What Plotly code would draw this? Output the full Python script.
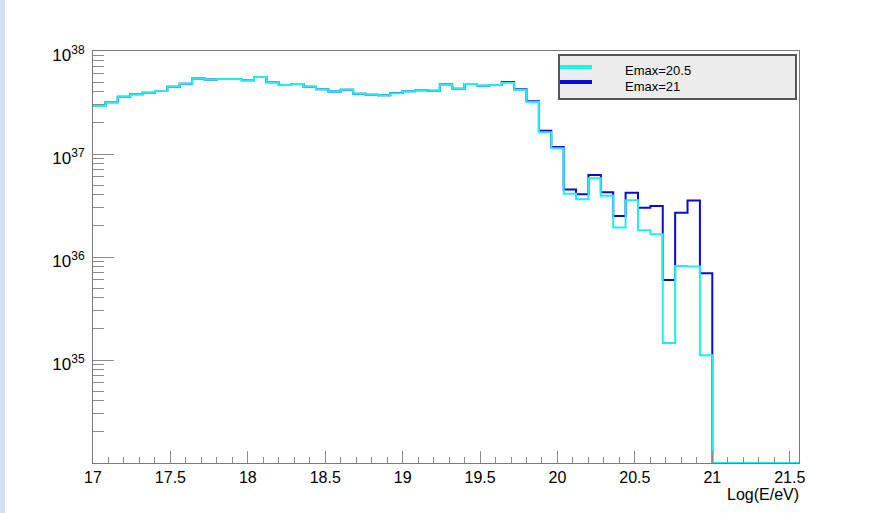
import numpy as np
import plotly.graph_objects as go

# Histogram binning in log10(E/eV): 57 bins of width 0.08 from 17.00 to 21.56
BIN_LO = 17.0
BIN_WIDTH = 0.08
N_BINS = 57

# Bin contents for the two cut-off energies
emax_20p5 = [
    2.93e37, 3.18e37, 3.60e37, 3.80e37, 3.94e37, 4.10e37, 4.50e37, 4.80e37,
    5.40e37, 5.30e37, 5.35e37, 5.35e37, 5.20e37, 5.60e37, 4.97e37, 4.68e37,
    4.79e37, 4.50e37, 4.25e37, 4.05e37, 4.20e37, 3.85e37, 3.77e37, 3.72e37,
    3.88e37, 4.07e37, 4.15e37, 4.12e37, 4.68e37, 4.31e37, 4.78e37, 4.60e37,
    4.68e37, 4.92e37, 4.20e37, 3.20e37, 1.63e37, 1.14e37, 4.11e36, 3.64e36,
    5.80e36, 3.93e36, 1.93e36, 3.56e36, 1.82e36, 1.66e36, 1.46e35, 8.20e35,
    8.10e35, 1.11e35, 0, 0, 0, 0, 0, 0, 0,
]
emax_21 = [
    2.93e37, 3.18e37, 3.60e37, 3.80e37, 3.94e37, 4.10e37, 4.50e37, 4.80e37,
    5.40e37, 5.30e37, 5.35e37, 5.35e37, 5.20e37, 5.60e37, 4.97e37, 4.68e37,
    4.79e37, 4.50e37, 4.25e37, 4.05e37, 4.20e37, 3.85e37, 3.77e37, 3.72e37,
    3.92e37, 4.07e37, 4.15e37, 4.12e37, 4.72e37, 4.31e37, 4.78e37, 4.60e37,
    4.68e37, 4.99e37, 4.26e37, 3.26e37, 1.68e37, 1.17e37, 4.52e36, 4.07e36,
    6.27e36, 4.25e36, 2.50e36, 4.20e36, 3.00e36, 3.12e36, 5.97e35, 2.69e36,
    3.54e36, 6.97e35, 0, 0, 0, 0, 0, 0, 0,
]
series_labels = ["Emax=20.5", "Emax=21"]

x_tick_vals = [17, 17.5, 18, 18.5, 19, 19.5, 20, 20.5, 21, 21.5]
x_tick_text = ["17", "17.5", "18", "18.5", "19", "19.5", "20", "20.5", "21", "21.5"]
y_tick_vals = [1e35, 1e36, 1e37, 1e38]
y_tick_exp = ["35", "36", "37", "38"]
x_title = "Log(E/eV)"

# Page and frame geometry (pixels)
W, H = 881, 513
ML, MR, MT, MB = 93, 82, 51, 50
PW, PH = W - ML - MR, H - MT - MB
Y_LOG_RANGE = [34, 38]

CYAN = "#1cf0f0"
BLUE = "#0a0ad6"
AXIS = "#7a7a7a"
TICK = "#8c8c8c"
FONT = "Liberation Sans, Arial, Helvetica, sans-serif"


def px_x(px):
    return (px - ML) / PW


def px_y(py):
    return (H - MB - py) / PH


edges = BIN_LO + BIN_WIDTH * np.arange(N_BINS + 1)
floor_val = 10 ** Y_LOG_RANGE[0]


def step_xy(values):
    """Histogram outline; empty bins sit on the bottom of the frame."""
    v = np.asarray(values, dtype=float)
    v = np.where(v > 0, v, floor_val)
    return edges, np.append(v, v[-1])


fig = go.Figure()
for vals, color, name in [(emax_21, BLUE, series_labels[1]),
                          (emax_20p5, CYAN, series_labels[0])]:
    x, y = step_xy(vals)
    fig.add_trace(go.Scatter(
        x=x, y=y, mode="lines", name=name,
        line=dict(color=color, width=2, shape="hv"),
        hoverinfo="skip", showlegend=False,
    ))

# Minor ticks for each decade on the log axis
y_minor = [k * 10.0 ** e for e in range(Y_LOG_RANGE[0], Y_LOG_RANGE[1]) for k in range(2, 10)]
y_tick_text = ["10<sup><span style='font-size:12px'>%s</span></sup>" % e for e in y_tick_exp]

fig.update_layout(
    width=W, height=H,
    margin=dict(l=ML, r=MR, t=MT, b=MB, pad=0),
    paper_bgcolor="white", plot_bgcolor="white",
    font=dict(family=FONT, color="black", size=15),
    showlegend=False,
    xaxis=dict(
        range=[BIN_LO, BIN_LO + BIN_WIDTH * N_BINS],
        tickmode="array", tickvals=x_tick_vals, ticktext=x_tick_text,
        ticks="inside", ticklen=12, tickwidth=1, tickcolor=TICK,
        minor=dict(dtick=0.1, tick0=17, ticks="inside", ticklen=6, tickcolor=TICK, tickwidth=1),
        showline=True, linecolor=AXIS, linewidth=1, mirror=True,
        showgrid=False, zeroline=False,
        tickfont=dict(size=16, family=FONT, color="black"),
    ),
    yaxis=dict(
        type="log", range=Y_LOG_RANGE,
        tickmode="array", tickvals=y_tick_vals, ticktext=y_tick_text,
        ticks="inside", ticklen=21, tickwidth=1, tickcolor=TICK,
        minor=dict(tickmode="array", tickvals=y_minor, ticks="inside", ticklen=11,
                   tickcolor=TICK, tickwidth=1),
        showline=True, linecolor=AXIS, linewidth=1, mirror=True,
        showgrid=False, zeroline=False,
        ticklabelshift=4, ticklabelstandoff=4,
        tickfont=dict(size=17, family=FONT, color="black"),
    ),
)

shapes = [
    # window edge strip on the far left
    dict(type="rect", xref="paper", yref="paper",
         x0=px_x(0), x1=px_x(5), y0=px_y(H), y1=px_y(0),
         fillcolor="#cfe1f2", line=dict(width=0), layer="below"),
    # legend box
    dict(type="rect", xref="paper", yref="paper",
         x0=px_x(559), x1=px_x(796), y0=px_y(99), y1=px_y(55),
         fillcolor="#ececec", line=dict(color="#555555", width=2)),
    dict(type="line", xref="paper", yref="paper",
         x0=px_x(560), x1=px_x(592), y0=px_y(67), y1=px_y(67),
         line=dict(color=CYAN, width=4)),
    dict(type="line", xref="paper", yref="paper",
         x0=px_x(560), x1=px_x(592), y0=px_y(82), y1=px_y(82),
         line=dict(color=BLUE, width=4)),
]
annotations = [
    dict(text=series_labels[0], xref="paper", yref="paper", x=px_x(623), y=px_y(70.5),
         xanchor="left", yanchor="middle", showarrow=False,
         font=dict(size=13, family=FONT, color="black")),
    dict(text=series_labels[1], xref="paper", yref="paper", x=px_x(623), y=px_y(86.5),
         xanchor="left", yanchor="middle", showarrow=False,
         font=dict(size=13, family=FONT, color="black")),
    dict(text=x_title, xref="paper", yref="paper", x=px_x(801), y=px_y(494),
         xanchor="right", yanchor="middle", showarrow=False,
         font=dict(size=16, family=FONT, color="black")),
]
fig.update_layout(shapes=shapes, annotations=annotations)

fig.write_html("out.html")
